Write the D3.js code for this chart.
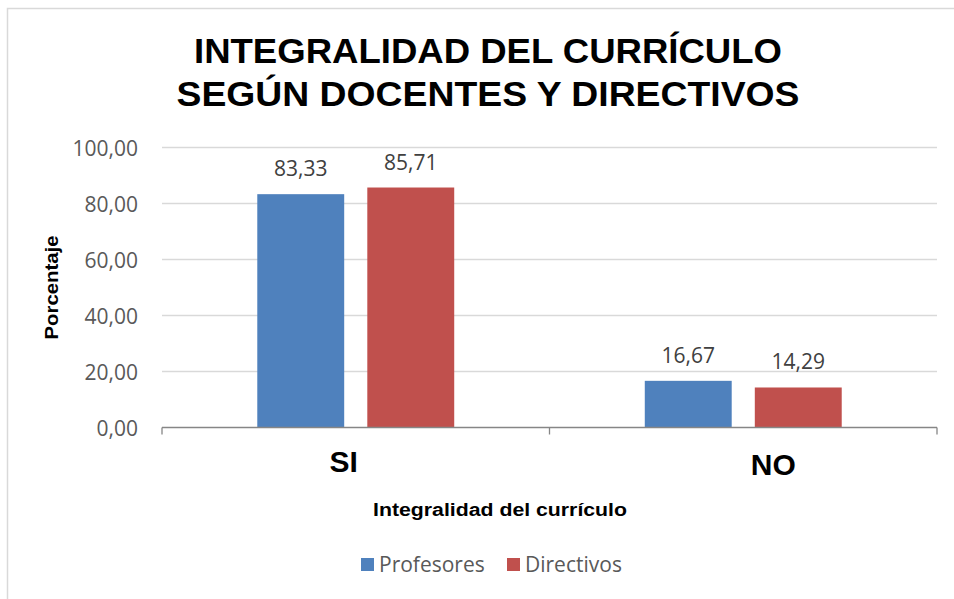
<!DOCTYPE html>
<html>
<head>
<meta charset="utf-8">
<script src="https://cdn.jsdelivr.net/npm/d3@7"></script>
<style>
  html, body { margin: 0; padding: 0; background: #fff; }
  svg { display: block; }
</style>
</head>
<body>
<svg id="chart" width="954" height="599"></svg>
<script>
// ---- data ----
const titleLines = ["INTEGRALIDAD DEL CURRÍCULO", "SEGÚN DOCENTES Y DIRECTIVOS"];
const categories = ["SI", "NO"];
const series = ["Profesores", "Directivos"];
const profesores = [83.33, 16.67];
const directivos = [85.71, 14.29];
const yTicks = [0, 20, 40, 60, 80, 100];
const xAxisTitle = "Integralidad del currículo";
const yAxisTitle = "Porcentaje";
const seriesColors = ["#4f81bd", "#c0504d"];

// ---- layout ----
const svg = d3.select("#chart");
const plot = { left: 162, right: 937, top: 147.5, bottom: 427.5 };
const fmt = v => d3.format(".2f")(v).replace(".", ",");
const calibri = "'Open Sans', 'Noto Sans', sans-serif";
const arial = "'Liberation Sans', Arial, sans-serif";

// chart border
svg.append("rect")
  .attr("x", 7.5).attr("y", 8.5).attr("width", 960).attr("height", 600)
  .attr("fill", "none").attr("stroke", "#d9d9d9").attr("stroke-width", 1.5);

// title
svg.append("g").selectAll("text").data(titleLines).join("text")
  .attr("x", 488).attr("y", (d, i) => 63 + i * 43)
  .attr("text-anchor", "middle")
  .attr("font-family", arial).attr("font-weight", "bold")
  .attr("font-size", 35).attr("fill", "#000")
  .attr("textLength", (d, i) => [588, 623][i])
  .attr("lengthAdjust", "spacingAndGlyphs")
  .text(d => d);

// scales
const x = d3.scaleBand().domain(categories).range([plot.left, plot.right]).padding(0);
const xSub = d3.scaleBand().domain(series).range([0, x.bandwidth()])
  .paddingInner(0.21).paddingOuter(0.866);
const y = d3.scaleLinear().domain([0, 100]).range([plot.bottom, plot.top]);

// gridlines
svg.append("g").selectAll("line").data(yTicks.filter(t => t > 0)).join("line")
  .attr("x1", plot.left).attr("x2", plot.right)
  .attr("y1", d => y(d)).attr("y2", d => y(d))
  .attr("stroke", "#d9d9d9").attr("stroke-width", 1.3);

// y axis (labels only)
const yAxis = d3.axisLeft(y).tickValues(yTicks).tickSize(0).tickPadding(24).tickFormat(fmt);
const yg = svg.append("g").attr("transform", `translate(${plot.left},0)`).call(yAxis);
yg.select(".domain").remove();
yg.selectAll("text")
  .attr("font-family", calibri).attr("font-size", 21).attr("fill", "#595959")
  .attr("dy", "0.36em");

// bars
const data = categories.map((c, i) => ({ cat: c, values: [profesores[i], directivos[i]] }));
const groups = svg.append("g").selectAll("g").data(data).join("g")
  .attr("transform", d => `translate(${x(d.cat)},0)`);
groups.selectAll("rect").data(d => d.values.map((v, j) => ({ s: series[j], v, j }))).join("rect")
  .attr("x", d => xSub(d.s)).attr("width", xSub.bandwidth())
  .attr("y", d => y(d.v)).attr("height", d => y(0) - y(d.v))
  .attr("fill", d => seriesColors[d.j]);
groups.selectAll("text").data(d => d.values.map((v, j) => ({ s: series[j], v, j }))).join("text")
  .attr("x", d => xSub(d.s) + xSub.bandwidth() / 2)
  .attr("y", d => y(d.v) - 18)
  .attr("text-anchor", "middle")
  .attr("font-family", calibri).attr("font-size", 21).attr("fill", "#404040")
  .text(d => fmt(d.v));

// x axis
const xg = svg.append("g").attr("transform", `translate(0,${plot.bottom})`);
xg.append("line").attr("x1", plot.left).attr("x2", plot.right)
  .attr("stroke", "#868686").attr("stroke-width", 1.3);
const tickPos = [plot.left, ...categories.map(c => x(c) + x.bandwidth())];
xg.selectAll(".tk").data(tickPos).join("line").attr("class", "tk")
  .attr("x1", d => d).attr("x2", d => d).attr("y1", 0).attr("y2", 7)
  .attr("stroke", "#868686").attr("stroke-width", 1.3);
const labelShift = [-12, 30];
const labelBase = [472, 475];
svg.append("g").selectAll("text").data(categories).join("text")
  .attr("x", (d, i) => x(d) + x.bandwidth() / 2 + labelShift[i])
  .attr("y", (d, i) => labelBase[i])
  .attr("text-anchor", "middle")
  .attr("font-family", arial).attr("font-weight", "bold").attr("font-size", 30)
  .attr("fill", "#000").text(d => d);

// axis titles
svg.append("text").attr("x", 500).attr("y", 516).attr("text-anchor", "middle")
  .attr("font-family", arial).attr("font-weight", "bold").attr("font-size", 17.5)
  .attr("fill", "#000").attr("textLength", 254).attr("lengthAdjust", "spacingAndGlyphs")
  .text(xAxisTitle);
svg.append("text")
  .attr("transform", "translate(58,287.5) rotate(-90)")
  .attr("text-anchor", "middle")
  .attr("font-family", arial).attr("font-weight", "bold").attr("font-size", 17.5)
  .attr("fill", "#000").attr("textLength", 104).attr("lengthAdjust", "spacingAndGlyphs")
  .text(yAxisTitle);

// legend
const legendX = [361, 507];
const lg = svg.append("g").selectAll("g").data(series).join("g")
  .attr("transform", (d, i) => `translate(${legendX[i]},558)`);
lg.append("rect").attr("width", 13).attr("height", 13).attr("fill", (d, i) => seriesColors[i]);
lg.append("text").attr("x", 18).attr("y", 14)
  .attr("font-family", calibri).attr("font-size", 21).attr("fill", "#595959")
  .text(d => d);
</script>
</body>
</html>
